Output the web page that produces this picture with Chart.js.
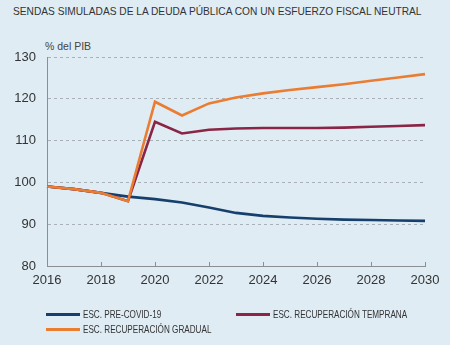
<!DOCTYPE html>
<html>
<head>
<meta charset="utf-8">
<script src="https://cdn.jsdelivr.net/npm/chart.js@4"></script>
<style>
  body { margin: 0; background: #dfecf4; width: 450px; height: 345px; overflow: hidden; position: relative; font-family: "Liberation Sans", Arial, sans-serif; color: #333; }
  #title { position: absolute; left: 13px; top: 5px; font-size: 11.5px; white-space: nowrap; transform: scaleX(0.885); transform-origin: left top; }
  #unit { position: absolute; left: 45px; top: 40px; font-size: 10.5px; color: #444; }
  #wrap { position: absolute; left: 0; top: 0; width: 450px; height: 345px; }
  .leg { position: absolute; font-size: 10.5px; white-space: nowrap; height: 12px; line-height: 12px; }
  .leg span { position: absolute; left: 0; top: 5px; width: 34px; height: 3px; }
  .leg b { position: absolute; left: 37px; top: 0; font-weight: normal; transform: scaleX(0.775); transform-origin: left center; }
</style>
</head>
<body>
<div id="title">SENDAS SIMULADAS DE LA DEUDA PÚBLICA CON UN ESFUERZO FISCAL NEUTRAL</div>
<div id="unit">% del PIB</div>
<div id="wrap"><canvas id="myChart" width="450" height="345"></canvas></div>
<div class="leg" style="left:46px; top:308px;"><span style="background:#163f6c"></span><b>ESC. PRE-COVID-19</b></div>
<div class="leg" style="left:236px; top:308px;"><span style="background:#8a2545"></span><b>ESC. RECUPERACIÓN TEMPRANA</b></div>
<div class="leg" style="left:46px; top:323px;"><span style="background:#ea7d32"></span><b>ESC. RECUPERACIÓN GRADUAL</b></div>
<script>
const years = ["2016", "2017", "2018", "2019", "2020", "2021", "2022", "2023", "2024", "2025", "2026", "2027", "2028", "2029", "2030"];
const preCovid = [99.0, 98.4, 97.5, 96.6, 96.0, 95.2, 94.0, 92.7, 92.0, 91.6, 91.3, 91.1, 91.0, 90.9, 90.8];
const temprana = [99.0, 98.4, 97.5, 95.5, 114.5, 111.7, 112.6, 112.9, 113.0, 113.0, 113.0, 113.1, 113.3, 113.5, 113.7];
const gradual = [99.0, 98.4, 97.5, 95.5, 119.3, 116.0, 118.9, 120.3, 121.3, 122.1, 122.8, 123.5, 124.3, 125.1, 125.9];
const yTicks = [80, 90, 100, 110, 120, 130];

const data = {
  labels: years,
  datasets: [
    { label: "ESC. PRE-COVID-19", data: preCovid, borderColor: "#163f6c", order: 3 },
    { label: "ESC. RECUPERACIÓN TEMPRANA", data: temprana, borderColor: "#8a2545", order: 2 },
    { label: "ESC. RECUPERACIÓN GRADUAL", data: gradual, borderColor: "#ea7d32", order: 1 },
  ],
};

// small ticks pointing up from the x axis
const innerTicks = {
  id: "innerTicks",
  afterDraw(chart) {
    const ctx = chart.ctx;
    const x = chart.scales.x;
    const bottom = chart.chartArea.bottom;
    ctx.save();
    ctx.strokeStyle = "#8a8f94";
    ctx.lineWidth = 1;
    years.forEach((yr, i) => {
      if (i % 2 === 0 && i > 0) {
        const px = Math.round(x.getPixelForValue(i)) + 0.5;
        ctx.beginPath();
        ctx.moveTo(px, bottom);
        ctx.lineTo(px, bottom - 4);
        ctx.stroke();
      }
    });
    ctx.restore();
  },
};

const config = {
  type: "line",
  data: data,
  options: {
    responsive: false,
    animation: false,
    layout: { padding: { top: 57, right: 25, bottom: 55, left: 0 } },
    elements: {
      point: { radius: 0 },
      line: { borderWidth: 2.6, tension: 0, fill: false },
    },
    plugins: { legend: { display: false }, tooltip: { enabled: false } },
    scales: {
      x: {
        offset: false,
        grid: { display: false, drawTicks: false },
        border: { display: true, color: "#8a8f94", width: 1 },
        ticks: {
          autoSkip: false,
          maxRotation: 0,
          padding: 7,
          color: "#333",
          font: { family: "Liberation Sans", size: 13 },
          callback: function (v, i) { return i % 2 === 0 ? years[i] : ""; },
        },
        afterFit: function (s) { s.height = 24; },
      },
      y: {
        min: 80,
        max: 130,
        afterBuildTicks: function (s) { s.ticks = yTicks.map(v => ({ value: v })); },
        grid: {
          drawTicks: false,
          color: function (c) { return c.tick && c.tick.value === 80 ? "rgba(0,0,0,0)" : "#a9b1b8"; },
          lineWidth: 1,
        },
        border: { display: true, color: "#8a8f94", width: 1, dash: [3, 3] },
        ticks: {
          padding: 11,
          color: "#333",
          font: { family: "Liberation Sans", size: 13 },
        },
        afterFit: function (s) { s.width = 47; },
      },
    },
  },
  plugins: [innerTicks],
};

const myChart = new Chart(document.getElementById("myChart"), config);
</script>
</body>
</html>
